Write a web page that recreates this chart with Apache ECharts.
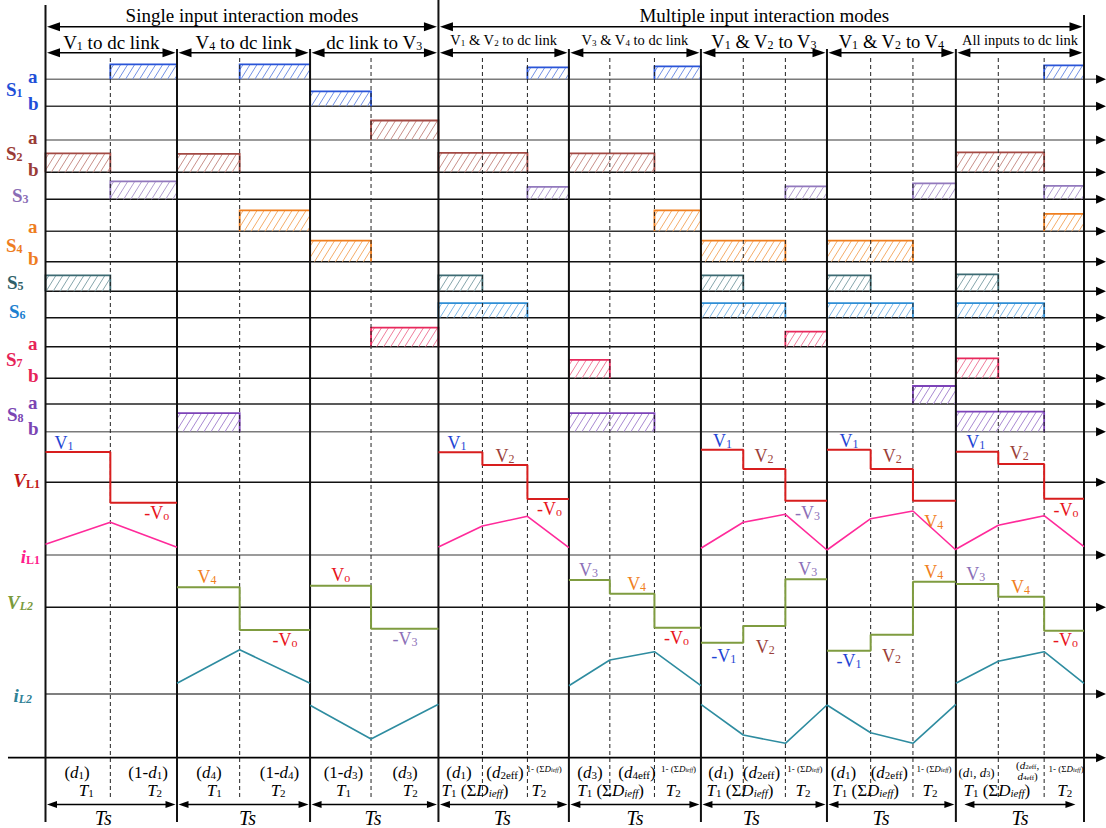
<!DOCTYPE html>
<html>
<head>
<meta charset="utf-8">
<title>Switching waveforms of the multi-input converter</title>
<script src="https://cdn.jsdelivr.net/npm/echarts@6.0.0/dist/echarts.min.js"></script>
<style>
  html, body { margin: 0; padding: 0; background: #fff; }
  #chart { width: 1106px; height: 828px; }
</style>
</head>
<body>
<div id="chart"></div>
<script>
// ================= data =================
// start of every switching period on the time axis (one unit ~ one Ts)
const periodStart = [0, 1.013, 2.038, 3.027, 4.032, 5.049, 6.020, 7.013, 8.0];
// switching instants inside each period, as a fraction of Ts
const firstSwitch  = [0.493, 0.471, 0.475, 0.337, 0.310, 0.336, 0.339, 0.331];
const secondSwitch = [null, null, null, 0.682, 0.648, 0.670, 0.667, 0.689];

const groupTitles = ['Single input interaction modes', 'Multiple input interaction modes'];
const groupPeriods = [[0, 3], [3, 8]];
const modeTitles = [
  'V{s|1} to dc link', 'V{s|4} to dc link', 'dc link to V{s|3}',
  'V{s|1} & V{s|2} to dc link', 'V{s|3} & V{s|4} to dc link',
  'V{s|1} & V{s|2} to V{s|3}', 'V{s|1} & V{s|2} to V{s|4}', 'All inputs to dc link'
];

// gate pulses: [period, first interval, last interval, pulse height]
const pulseS1a = [[0, 1, 1, 15], [1, 1, 1, 15], [3, 2, 2, 12], [4, 2, 2, 13], [7, 2, 2, 14]];
const pulseS1b = [[2, 0, 0, 15]];
const pulseS2a = [[2, 1, 1, 19.5]];
const pulseS2b = [[0, 0, 0, 19], [1, 0, 0, 18.5], [3, 0, 1, 19.5], [4, 0, 1, 19], [7, 0, 1, 20]];
const pulseS3  = [[0, 1, 1, 18], [3, 2, 2, 12.5], [5, 2, 2, 13], [6, 2, 2, 16], [7, 2, 2, 13.5]];
const pulseS4a = [[1, 1, 1, 21], [4, 2, 2, 21], [7, 2, 2, 17.5]];
const pulseS4b = [[2, 0, 0, 21], [5, 0, 1, 21], [6, 0, 1, 21]];
const pulseS5  = [[0, 0, 0, 16], [3, 0, 0, 16], [5, 0, 0, 16], [6, 0, 0, 16], [7, 0, 0, 17]];
const pulseS6  = [[3, 0, 1, 14.5], [5, 0, 1, 14.5], [6, 0, 1, 14.5], [7, 0, 1, 14.5]];
const pulseS7a = [[2, 1, 1, 19], [5, 2, 2, 15]];
const pulseS7b = [[4, 0, 0, 18.5], [7, 0, 0, 20]];
const pulseS8a = [[6, 2, 2, 18]];
const pulseS8b = [[1, 0, 0, 18.5], [4, 0, 1, 18.5], [7, 0, 1, 20]];

// inductor voltages: one level per interval of each period
const vL1Levels = [[30.3, -20.4], null, null, [30, 17.3, -16.7], null,
                   [32.6, 13.3, -18.4], [32.6, 13.3, -18.4], [30.6, 18.3, -16.4]];
const vL2Levels = [null, [20, -22.7], [21.6, -21.4], null, [27.3, 13.6, -20.4],
                   [-35.4, -18.7, 28], [-43.4, -27.4, 25.6], [23.3, 10.6, -23.4]];
// inductor currents: values at period start, switching instants and period end
const iL1Points = [[10.7, 32.7, 7.7], null, null, [8, 29, 38.7, 7.3], null,
                   [6.7, 32.7, 40.7, 5], [5, 36.3, 44, 5], [5.7, 29.7, 39.3, 8.3]];
const iL2Points = [null, [10.7, 44.3, 10.7], [-11.3, -45, -10.3], null, [8.3, 34, 42.3, 8.3],
                   [-10.3, -41, -49.3, -11], [-11, -38.7, -49.3, -10.3], [10.7, 32.7, 42.3, 10.7]];

// voltage level names: [period, position in period, level, name]
const vL1Names = [
  [0, 0.141, 39, 'V1'], [0, 0.846, -31, '-Vo'],
  [3, 0.142, 39.6, 'V1'], [3, 0.510, 26.3, 'V2'], [3, 0.851, -27, '-Vo'],
  [5, 0.171, 41.6, 'V1'], [5, 0.500, 26.3, 'V2'], [5, 0.845, -30.4, '-V3'],
  [6, 0.171, 41.6, 'V1'], [6, 0.507, 26.3, 'V2'], [6, 0.829, -39.4, 'V4'],
  [7, 0.156, 40.6, 'V1'], [7, 0.495, 29, 'V2'], [7, 0.859, -27.7, '-Vo']
];
const vL2Names = [
  [1, 0.226, 30.6, 'V4'], [1, 0.812, -32.7, '-Vo'],
  [2, 0.239, 32.3, 'Vo'], [2, 0.739, -31.4, '-V3'],
  [4, 0.149, 37.3, 'V3'], [4, 0.513, 23, 'V4'], [4, 0.815, -31, '-Vo'],
  [5, 0.181, -48.7, '-V1'], [5, 0.511, -39.4, 'V2'], [5, 0.848, 38, 'V3'],
  [6, 0.171, -53.4, '-V1'], [6, 0.501, -48.7, 'V2'], [6, 0.829, 35.6, 'V4'],
  [7, 0.156, 33, 'V3'], [7, 0.505, 20.6, 'V4'], [7, 0.855, -32.7, '-Vo']
];

// duty-cycle notes under the time axis: [period, position in period, row, text]
const dutyNotes = [
  [0, 0.24, 'duty', '({i|d}{s|1})'], [0, 0.78, 'duty', '(1-{i|d}{s|1})'],
  [1, 0.24, 'duty', '({i|d}{s|4})'], [1, 0.77, 'duty', '(1-{i|d}{s|4})'],
  [2, 0.26, 'duty', '(1-{i|d}{s|3})'], [2, 0.74, 'duty', '({i|d}{s|3})'],
  [3, 0.157, 'duty', '({i|d}{s|1})'], [3, 0.51, 'duty', '({i|d}{s|2eff})'], [3, 0.81, 'tiny', '1- (Σ{i|D}{si|ieff})'],
  [4, 0.16, 'duty', '({i|d}{s|3})'], [4, 0.515, 'duty', '({i|d}{s|4eff})'], [4, 0.83, 'tiny', '1- (Σ{i|D}{si|ieff})'],
  [5, 0.159, 'duty', '({i|d}{s|1})'], [5, 0.48, 'duty', '({i|d}{s|2eff})'], [5, 0.825, 'tiny', '1- (Σ{i|D}{si|ieff})'],
  [6, 0.128, 'duty', '({i|d}{s|1})'], [6, 0.484, 'duty', '({i|d}{s|2eff})'], [6, 0.83, 'tiny', '1- (Σ{i|D}{si|ieff})'],
  [7, 0.161, 'dutySmall', '({i|d}{s|1}, {i|d}{s|3})'], [7, 0.56, 'dutyHi', '({i|d}{s|2eff},'],
  [7, 0.56, 'dutyLo', '{i|d}{s|4eff})'], [7, 0.86, 'tiny', '1- (Σ{i|D}{si|ieff})']
];
const intervalNotes = [
  [0, 0.31, '{i|T}{s|1}'], [0, 0.83, '{i|T}{s|2}'],
  [1, 0.28, '{i|T}{s|1}'], [1, 0.76, '{i|T}{s|2}'],
  [2, 0.26, '{i|T}{s|1}'], [2, 0.78, '{i|T}{s|2}'],
  [3, 0.28, '{i|T}{s|1} (Σ{i|D}{si|ieff})'], [3, 0.77, '{i|T}{s|2}'],
  [4, 0.316, '{i|T}{s|1} (Σ{i|D}{si|ieff})'], [4, 0.79, '{i|T}{s|2}'],
  [5, 0.31, '{i|T}{s|1} (Σ{i|D}{si|ieff})'], [5, 0.81, '{i|T}{s|2}'],
  [6, 0.30, '{i|T}{s|1} (Σ{i|D}{si|ieff})'], [6, 0.80, '{i|T}{s|2}'],
  [7, 0.32, '{i|T}{s|1} (Σ{i|D}{si|ieff})'], [7, 0.85, '{i|T}{s|2}']
];
const periodNotes = [[0, 0.44], [1, 0.53], [2, 0.49], [3, 0.49], [4, 0.5], [5, 0.40], [6, 0.42], [7, 0.5]];

// ================= layout and styles =================
const SERIF = "'Liberation Serif', 'Times New Roman', serif";
const AXIS_TIP = 8.17;    // arrow tip of every time line
const AXIS_TAIL = -0.289; // the bottom time axis starts left of the first period

// baselines of the traces (diagram units, top to bottom)
const TRACK_Y = {
  S1a: 79.3, S1b: 106.3, S2a: 140, S2b: 172.3, S3: 199.3, S4a: 231.3, S4b: 261.7,
  S5: 291.3, S6: 317.7, S7a: 346.7, S7b: 378.3, S8a: 404, S8b: 431.7,
  VL1: 482.3, IL1: 555, VL2: 607.3, IL2: 694, T: 757.7
};
const TRACK_LINE = {
  S1a: '#7a7a7a', S1b: '#3a3a3a', S2a: '#7a7a7a', S2b: '#111', S3: '#111', S4a: '#333',
  S4b: '#111', S5: '#111', S6: '#111', S7a: '#111', S7b: '#111', S8a: '#222', S8b: '#7a7a7a',
  VL1: '#111', IL1: '#7a7a7a', VL2: '#111', IL2: '#555', T: '#000'
};
const SW = {
  S1: { line: '#2a55d8', hatch: '#7392e6', label: '#1f4fd8' },
  S2: { line: '#a34a44', hatch: '#c9908a', label: '#9a3b36' },
  S3: { line: '#9279bd', hatch: '#b19ed0', label: '#8a6db5' },
  S4: { line: '#f07f1f', hatch: '#f5ad6a', label: '#ee7d1f' },
  S5: { line: '#3d6b73', hatch: '#86a6ac', label: '#2f5f68' },
  S6: { line: '#2f8fd6', hatch: '#80b8e6', label: '#1c7fd0' },
  S7: { line: '#e8295c', hatch: '#f07e9c', label: '#e62358' },
  S8: { line: '#7d44b8', hatch: '#a98ad2', label: '#7b45b3' }
};
const NAME_COLOR = { '1': '#1f45d4', '2': '#9b3f3a', 'o': '#e8141c', '3': '#8c70b8', '4': '#f07f1e' };
const WAVE = {
  VL1: { color: '#d81e1e', width: 2 },
  IL1: { color: '#ff2a9a', width: 1.6 },
  VL2: { color: '#7f9c40', width: 2 },
  IL2: { color: '#2e8ca0', width: 1.6 }
};
const BOUNDARY_TOP = [5, 49, 49, 0, 49, 49, 49, 49, 15];
const BOUNDARY_BOTTOM = 822;
const DASH_TOP = 58, DASH_BOTTOM = 800;
const ROW_Y = { group: 15, groupArrow: 26.7, mode: 42, modeSmall: 40, modeArrow: 52.7,
  duty: 772, dutySmall: 772, dutyHi: 765, dutyLo: 775.8, tiny: 768.5, interval: 790, tsArrow: 804.5, ts: 818 };
const MODE_SIZE = [19, 19, 19, 14.5, 14.5, 18.5, 18.5, 14.5];
const TS_INSET = [0, 0, 0, 0, 0, 0, 0, 0.055];
const HATCH_GAP = 7, HATCH_SLANT = 0.62;

// ================= helpers =================
function periodTimes(m) {
  const s = periodStart[m], e = periodStart[m + 1], w = e - s;
  const t = [s, s + firstSwitch[m] * w];
  if (secondSwitch[m] != null) t.push(s + secondSwitch[m] * w);
  t.push(e);
  return t;
}
function at(m, f) { return periodStart[m] + f * (periodStart[m + 1] - periodStart[m]); }

// rich-text styles: italic, subscript, italic subscript (subscript sits a little under the baseline)
function rich(size, color, weight) {
  const sub = Math.round(size * 0.64);
  const base = { fontFamily: SERIF, fill: color, fontWeight: weight };
  return {
    i: Object.assign({}, base, { fontSize: size, fontStyle: 'italic', lineHeight: size, verticalAlign: 'middle' }),
    s: Object.assign({}, base, { fontSize: sub, lineHeight: sub - 1, verticalAlign: 'bottom' }),
    si: Object.assign({}, base, { fontSize: sub, fontStyle: 'italic', lineHeight: sub - 1, verticalAlign: 'bottom' })
  };
}
function textEl(x, y, text, o) {
  const w = o.weight || 'normal';
  return {
    type: 'text', x: x, y: y, silent: true,
    style: {
      text: text, fill: o.color, fontFamily: SERIF, fontSize: o.size, fontWeight: w,
      fontStyle: o.italic ? 'italic' : 'normal', lineHeight: o.size,
      align: o.align || 'center', verticalAlign: 'middle', rich: rich(o.size, o.color, w)
    }
  };
}
function head(x, y, dir, len, half, color) {
  return { type: 'polygon', shape: { points: [[x, y], [x - dir * len, y - half], [x - dir * len, y + half]] },
           style: { fill: color || '#000' } };
}
function doubleArrow(x0, x1, y, len, half) {
  return [
    { type: 'line', shape: { x1: x0 + len - 1, y1: y, x2: x1 - len + 1, y2: y }, style: { stroke: '#000', lineWidth: 1.6 } },
    head(x0, y, -1, len, half), head(x1, y, 1, len, half)
  ];
}
function hatch(x0, y0, x1, y1, color) {
  const H = y1 - y0, run = HATCH_SLANT * H, out = [];
  for (let c = x0 - run + HATCH_GAP * 0.5; c < x1; c += HATCH_GAP) {
    const a = Math.max(0, (x0 - c) / run), b = Math.min(1, (x1 - c) / run);
    if (b <= a) continue;
    out.push({ type: 'line', shape: { x1: c + a * run, y1: y1 - a * H, x2: c + b * run, y2: y1 - b * H },
               style: { stroke: color, lineWidth: 1 } });
  }
  return out;
}

const series = [];
function layer(items, draw, z) {
  series.push({
    type: 'custom', coordinateSystem: 'cartesian2d', silent: true, z: z, animation: false,
    data: items.map(() => [0, 0]),
    renderItem: (params, api) => draw(items[params.dataIndex], api)
  });
}

// ---- trace baselines with arrow tips
layer(Object.keys(TRACK_Y), (k, api) => {
  const y = TRACK_Y[k];
  const a = api.coord([k === 'T' ? AXIS_TAIL : 0, y]), b = api.coord([AXIS_TIP, y]);
  return { type: 'group', children: [
    { type: 'line', shape: { x1: a[0], y1: a[1], x2: b[0] - 8, y2: b[1] },
      style: { stroke: TRACK_LINE[k], lineWidth: k === 'T' ? 1.8 : 1.5 } },
    head(b[0], b[1], 1, 10, 4.5)
  ] };
}, 1);

// ---- gate pulses
const pulseSets = [
  ['S1', 'S1a', pulseS1a], ['S1', 'S1b', pulseS1b], ['S2', 'S2a', pulseS2a], ['S2', 'S2b', pulseS2b],
  ['S3', 'S3', pulseS3], ['S4', 'S4a', pulseS4a], ['S4', 'S4b', pulseS4b], ['S5', 'S5', pulseS5],
  ['S6', 'S6', pulseS6], ['S7', 'S7a', pulseS7a], ['S7', 'S7b', pulseS7b], ['S8', 'S8a', pulseS8a],
  ['S8', 'S8b', pulseS8b]
];
const pulses = [];
pulseSets.forEach(([sw, track, list]) => list.forEach(p => pulses.push({ sw, track, p })));
layer(pulses, (it, api) => {
  const [m, k0, k1, h] = it.p;
  const t = periodTimes(m), base = TRACK_Y[it.track];
  const tl = api.coord([t[k0], base - h]), br = api.coord([t[k1 + 1], base]);
  const c = SW[it.sw];
  const kids = hatch(tl[0], tl[1], br[0], br[1], c.hatch);
  kids.push({ type: 'polyline', shape: { points: [[tl[0], br[1]], [tl[0], tl[1]], [br[0], tl[1]], [br[0], br[1]]] },
              style: { stroke: c.line, fill: null, lineWidth: 1.8 } });
  return { type: 'group', children: kids };
}, 2);

// ---- switching instants (dashed)
const switchTimes = [];
periodStart.slice(0, -1).forEach((s, m) => { const t = periodTimes(m); t.slice(1, -1).forEach(v => switchTimes.push(v)); });
layer(switchTimes, (t, api) => {
  const a = api.coord([t, DASH_TOP]), b = api.coord([t, DASH_BOTTOM]);
  return { type: 'line', shape: { x1: a[0], y1: a[1], x2: b[0], y2: b[1] },
           style: { stroke: '#222', lineWidth: 1, lineDash: [4, 3] } };
}, 3);

// ---- period boundaries
layer(periodStart.map((t, i) => i), (i, api) => {
  const a = api.coord([periodStart[i], BOUNDARY_TOP[i]]), b = api.coord([periodStart[i], BOUNDARY_BOTTOM]);
  return { type: 'line', shape: { x1: a[0], y1: a[1], x2: b[0], y2: b[1] }, style: { stroke: '#111', lineWidth: 2 } };
}, 4);

// ---- arrows: groups, modes, periods
const arrows = [];
groupPeriods.forEach(([a, b]) => arrows.push({ t0: periodStart[a], t1: periodStart[b], y: ROW_Y.groupArrow, len: 13, half: 4.5, pad: 1.5 }));
periodStart.slice(0, -1).forEach((s, m) => {
  arrows.push({ t0: s, t1: periodStart[m + 1], y: ROW_Y.modeArrow, len: 13, half: 4.5, pad: 1.5 });
  arrows.push({ t0: at(m, TS_INSET[m]), t1: at(m, 1 - TS_INSET[m]), y: ROW_Y.tsArrow, len: 10, half: 3.5, pad: 1.5 });
});
layer(arrows, (a, api) => {
  const p = api.coord([a.t0, a.y]), q = api.coord([a.t1, a.y]);
  return { type: 'group', children: doubleArrow(p[0] + a.pad, q[0] - a.pad, p[1], a.len, a.half) };
}, 4);

// ---- inductor waveforms (drawn through the line series)
function stepPoints(m, levels, base) {
  const t = periodTimes(m), pts = [];
  levels.forEach((v, k) => { pts.push([t[k], base - v], [t[k + 1], base - v]); });
  return pts;
}
function rampPoints(m, values, base) {
  const t = periodTimes(m);
  return values.map((v, k) => [t[k], base - v]);
}
[['VL1', vL1Levels, stepPoints], ['IL1', iL1Points, rampPoints],
 ['VL2', vL2Levels, stepPoints], ['IL2', iL2Points, rampPoints]].forEach(([key, list, fn]) => {
  list.forEach((vals, m) => {
    if (!vals) return;
    series.push({
      type: 'line', name: key, data: fn(m, vals, TRACK_Y[key]), symbol: 'none', silent: true,
      animation: false, z: 5, clip: false,
      lineStyle: { color: WAVE[key].color, width: WAVE[key].width }
    });
  });
});

// ---- text
const texts = [];
groupTitles.forEach((s, g) => {
  const [a, b] = groupPeriods[g];
  texts.push({ t: (periodStart[a] + periodStart[b]) / 2, y: ROW_Y.group, dx: g ? 3 : 0, text: s, size: 19, color: '#000' });
});
modeTitles.forEach((s, m) => texts.push({
  t: at(m, 0.5), y: MODE_SIZE[m] < 16 ? ROW_Y.modeSmall : ROW_Y.mode, text: s, size: MODE_SIZE[m], color: '#000'
}));
// trace names at the left margin
const trackNames = [
  ['S{s|1}', 89.3, -39.5, SW.S1.label], ['a', 76.7, -17.5, SW.S1.label], ['b', 103.3, -17.5, SW.S1.label],
  ['S{s|2}', 153, -39.5, SW.S2.label], ['a', 137, -17.5, SW.S2.label], ['b', 169, -17.5, SW.S2.label],
  ['S{s|3}', 195, -33.5, SW.S3.label],
  ['S{s|4}', 245, -39.5, SW.S4.label], ['a', 226.7, -17.5, SW.S4.label], ['b', 258, -17.5, SW.S4.label],
  ['S{s|5}', 282.7, -38.5, SW.S5.label],
  ['S{s|6}', 311.7, -36.5, SW.S6.label],
  ['S{s|7}', 359, -39.5, SW.S7.label], ['a', 343.3, -17.5, SW.S7.label], ['b', 375, -17.5, SW.S7.label],
  ['S{s|8}', 414, -38.5, SW.S8.label], ['a', 402.7, -17.5, SW.S8.label], ['b', 428, -17.5, SW.S8.label]
];
trackNames.forEach(([s, y, dx, c]) => texts.push({ t: 0, y, dx, text: s, size: 19, color: c, weight: 'bold', align: 'left' }));
[['{i|V}{s|L1}', 480, -5.5, '#c01818'], ['{i|i}{s|L1}', 556, -5.5, '#ff1c8c'],
 ['{i|V}{si|L2}', 602.7, -12.5, '#7a9a3c'], ['{i|i}{si|L2}', 695, -13.5, '#2f8296']].forEach(([s, y, dx, c]) =>
  texts.push({ t: 0, y, dx, text: s, size: 19, color: c, weight: 'bold', align: 'right' }));
// voltage level names
[['VL1', vL1Names], ['VL2', vL2Names]].forEach(([key, list]) => list.forEach(([m, f, v, name]) => {
  const neg = name[0] === '-', sub = name[name.length - 1];
  texts.push({ t: at(m, f), y: TRACK_Y[key] - v, text: (neg ? '-' : '') + 'V{s|' + sub + '}', size: 18, color: NAME_COLOR[sub] });
}));
// notes under the time axis
const NOTE_SIZE = { duty: 17, dutySmall: 13, dutyHi: 11, dutyLo: 11, tiny: 9 };
dutyNotes.forEach(([m, f, row, s]) => texts.push({ t: at(m, f), y: ROW_Y[row], text: s, size: NOTE_SIZE[row], color: '#000' }));
intervalNotes.forEach(([m, f, s]) => texts.push({ t: at(m, f), y: ROW_Y.interval, text: s, size: 17, color: '#000' }));
periodNotes.forEach(([m, f]) => texts.push({ t: at(m, f), y: ROW_Y.ts, text: '{i|Ts}', size: 20, color: '#000' }));

layer(texts, (o, api) => {
  const p = api.coord([o.t, o.y]);
  return textEl(p[0] + (o.dx || 0), p[1], o.text, o);
}, 6);

// ================= chart =================
const chart = echarts.init(document.getElementById('chart'), null, { renderer: 'svg' });
chart.setOption({
  animation: false,
  backgroundColor: '#fff',
  grid: { left: 45.5, right: 22, top: 0, bottom: 0 },
  xAxis: { type: 'value', min: 0, max: 8, show: false },
  yAxis: { type: 'value', min: 0, max: 828, inverse: true, show: false },
  series: series
});
</script>
</body>
</html>
